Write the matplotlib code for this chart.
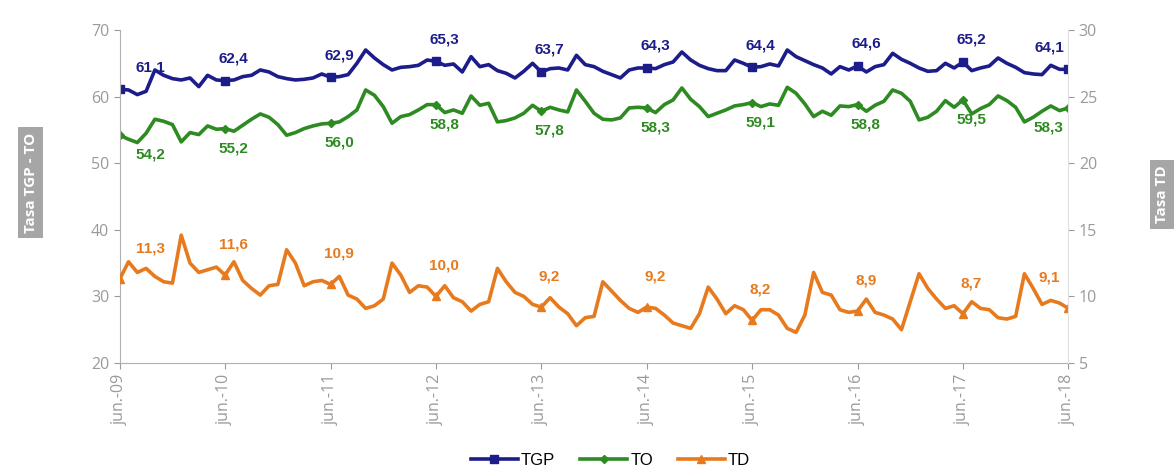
import matplotlib
matplotlib.use('Agg')
import matplotlib.pyplot as plt

# meses jun-09 .. jun-18 (109 puntos), etiquetas solo en junio
etiquetas_x = ['jun.-09', 'jun.-10', 'jun.-11', 'jun.-12', 'jun.-13',
               'jun.-14', 'jun.-15', 'jun.-16', 'jun.-17', 'jun.-18']

tgp = [61.1, 61.0, 60.3, 60.8, 64.0, 63.2, 62.7, 62.5, 62.8, 61.5, 63.2, 62.5,
       62.4, 62.5, 63.0, 63.2, 64.0, 63.7, 63.0, 62.7, 62.5, 62.6, 62.8, 63.4,
       62.9, 63.0, 63.3, 65.0, 67.0, 65.8, 64.8, 64.0, 64.4, 64.5, 64.7, 65.5,
       65.3, 64.7, 64.9, 63.7, 66.0, 64.5, 64.8, 63.9, 63.5, 62.8, 63.8, 65.0,
       63.7, 64.2, 64.3, 64.0, 66.2, 64.8, 64.5, 63.8, 63.3, 62.8, 64.0, 64.3,
       64.3, 64.2, 64.8, 65.2, 66.7, 65.5, 64.7, 64.2, 63.9, 63.9, 65.5, 65.0,
       64.4, 64.5, 64.9, 64.6, 67.0, 66.0, 65.4, 64.8, 64.3, 63.4, 64.5, 64.0,
       64.6, 63.7, 64.5, 64.8, 66.5, 65.6, 65.0, 64.3, 63.8, 63.9, 65.0, 64.3,
       65.2, 63.9, 64.3, 64.6, 65.8, 65.0, 64.4, 63.6, 63.4, 63.3, 64.7, 64.1,
       64.1]

to = [54.2, 53.6, 53.1, 54.5, 56.6, 56.3, 55.8, 53.2, 54.6, 54.3, 55.6, 55.1,
      55.2, 54.8, 55.7, 56.6, 57.4, 56.9, 55.8, 54.2, 54.6, 55.2, 55.6, 55.9,
      56.0, 56.2, 57.0, 58.0, 61.0, 60.2, 58.5, 56.0, 57.0, 57.3, 58.0, 58.8,
      58.8, 57.6, 58.0, 57.5, 60.1, 58.7, 59.0, 56.2, 56.4, 56.8, 57.5, 58.7,
      57.8, 58.4, 58.0, 57.7, 61.0, 59.3, 57.5, 56.6, 56.5, 56.8, 58.3, 58.4,
      58.3, 57.6, 58.8, 59.5, 61.3, 59.6, 58.5, 57.0, 57.5, 58.0, 58.6, 58.8,
      59.1, 58.5, 58.9, 58.7, 61.4, 60.5, 58.9, 57.0, 57.8, 57.2, 58.6, 58.5,
      58.8, 57.8, 58.7, 59.3, 61.0, 60.5, 59.3, 56.5, 56.9, 57.8, 59.4, 58.4,
      59.5, 57.4, 58.2, 58.8, 60.1, 59.4, 58.4, 56.2, 56.9, 57.8, 58.6, 57.9,
      58.3]

td = [11.3, 12.6, 11.8, 12.1, 11.5, 11.1, 11.0, 14.6, 12.5, 11.8, 12.0, 12.2,
      11.6, 12.6, 11.2, 10.6, 10.1, 10.8, 10.9, 13.5, 12.5, 10.8, 11.1, 11.2,
      10.9, 11.5, 10.1, 9.8, 9.1, 9.3, 9.8, 12.5, 11.6, 10.3, 10.8, 10.7,
      10.0, 10.8, 9.9, 9.6, 8.9, 9.4, 9.6, 12.1, 11.1, 10.3, 10.0, 9.4,
      9.2, 9.9, 9.2, 8.7, 7.8, 8.4, 8.5, 11.1, 10.4, 9.7, 9.1, 8.8,
      9.2, 9.1, 8.6, 8.0, 7.8, 7.6, 8.7, 10.7, 9.8, 8.7, 9.3, 9.0,
      8.2, 9.0, 9.0, 8.6, 7.6, 7.3, 8.6, 11.8, 10.3, 10.1, 9.0, 8.8,
      8.9, 9.8, 8.8, 8.6, 8.3, 7.5, 9.6, 11.7, 10.6, 9.8, 9.1, 9.3,
      8.7, 9.6, 9.1, 9.0, 8.4, 8.3, 8.5, 11.7, 10.6, 9.4, 9.7, 9.5,
      9.1]

azul = '#1c1c8a'
verde = '#2e8b22'
naranja = '#e87a1e'
gris = '#9a9a9a'

x = list(range(len(tgp)))
junios = list(range(0, len(tgp), 12))

fig = plt.figure(figsize=(11.74, 4.69), dpi=100)
ax = fig.add_axes([0.102, 0.226, 0.808, 0.71])
ax2 = ax.twinx()

l1, = ax.plot(x, tgp, color=azul, lw=2.6, marker='s', markersize=6,
              markevery=junios, label='TGP', solid_joinstyle='round')
l2, = ax.plot(x, to, color=verde, lw=2.6, marker='D', markersize=4,
              markevery=junios, label='TO', solid_joinstyle='round')
l3, = ax2.plot(x, td, color=naranja, lw=2.6, marker='^', markersize=6,
               markevery=junios, label='TD', solid_joinstyle='round')


def desplaz(k):
    # la primera etiqueta va a la derecha, la ultima a la izquierda
    if k == 0:
        return 22
    if k == len(junios) - 1:
        return -14
    return 6


fuente = 'Liberation Sans'
for k, i in enumerate(junios):
    dx = desplaz(k)
    ax.annotate(f'{tgp[i]:.1f}'.replace('.', ','), (i, tgp[i]), xytext=(dx, 16),
                textcoords='offset points', ha='center', va='center',
                color=azul, fontsize=11, fontweight='bold', family=fuente)
    ax.annotate(f'{to[i]:.1f}'.replace('.', ','), (i, to[i]), xytext=(dx, -14),
                textcoords='offset points', ha='center', va='center',
                color=verde, fontsize=11, fontweight='bold', family=fuente)
    ax2.annotate(f'{td[i]:.1f}'.replace('.', ','), (i, td[i]), xytext=(dx, 22),
                 textcoords='offset points', ha='center', va='center',
                 color=naranja, fontsize=11, fontweight='bold', family=fuente)

ax.set_xlim(0, len(tgp) - 1)
ax.set_ylim(20, 70)
ax2.set_ylim(5, 30)
ax.set_yticks(range(20, 71, 10))
ax2.set_yticks(range(5, 31, 5))
ax.set_xticks(junios)
ax.set_xticklabels(etiquetas_x, rotation=90, family='Open Sans')

for a in (ax, ax2):
    a.spines['top'].set_visible(False)
    a.tick_params(colors=gris, labelsize=11.5, length=4)
    for s in a.spines.values():
        s.set_color('#b0b0b0')
ax2.spines['right'].set_color('#e0e0e0')
ax.spines['right'].set_visible(False)
ax2.spines['left'].set_visible(False)
ax2.spines['bottom'].set_visible(False)
for lab in ax.get_yticklabels() + ax2.get_yticklabels():
    lab.set_family('Open Sans')

caja = dict(boxstyle='square,pad=0.35', fc='#a6a6a6', ec='none')
fig.text(0.026, 0.61, 'Tasa TGP - TO', rotation=90, ha='center', va='center',
         color='white', fontsize=11, fontweight='bold', family='Open Sans', bbox=caja)
fig.text(0.99, 0.585, 'Tasa TD', rotation=90, ha='center', va='center',
         color='white', fontsize=11, fontweight='bold', family='Open Sans', bbox=caja)

fig.legend(handles=[l1, l2, l3], loc='lower center', ncol=3, frameon=False,
           bbox_to_anchor=(0.52, -0.03), prop={'family': fuente, 'size': 12},
           handlelength=2.8, columnspacing=1.5, handletextpad=0.2)

fig.savefig('out.png', dpi=100)
